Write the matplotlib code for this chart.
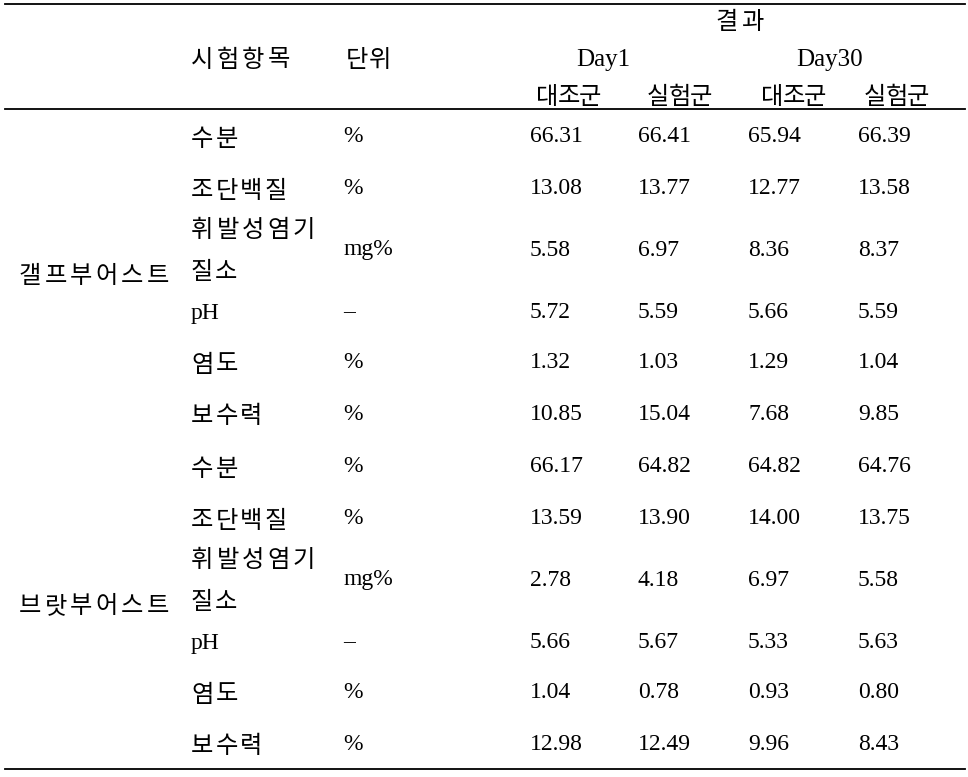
import matplotlib.pyplot as plt

plt.rcParams['font.family'] = ['Liberation Serif', 'Noto Sans CJK KR']

# 표 데이터
groups = ['갤프부어스트', '브랏부어스트']
items = ['수분', '조단백질', '휘발성염기\n질소', 'pH', '염도', '보수력']
units = ['%', '%', 'mg%', '–', '%', '%']
col_heads = ['대조군', '실험군', '대조군', '실험군']
days = ['Day1', 'Day30']

values = [
    # 갤프부어스트: Day1 대조군, Day1 실험군, Day30 대조군, Day30 실험군
    [['66.31', '66.41', '65.94', '66.39'],
     ['13.08', '13.77', '12.77', '13.58'],
     ['5.58', '6.97', '8.36', '8.37'],
     ['5.72', '5.59', '5.66', '5.59'],
     ['1.32', '1.03', '1.29', '1.04'],
     ['10.85', '15.04', '7.68', '9.85']],
    # 브랏부어스트
    [['66.17', '64.82', '64.82', '64.76'],
     ['13.59', '13.90', '14.00', '13.75'],
     ['2.78', '4.18', '6.97', '5.58'],
     ['5.66', '5.67', '5.33', '5.63'],
     ['1.04', '0.78', '0.93', '0.80'],
     ['12.98', '12.49', '9.96', '8.43']],
]

fig = plt.figure(figsize=(9.68, 7.77), dpi=100)
ax = fig.add_axes([0, 0, 1, 1])
ax.set_xlim(0, 968)
ax.set_ylim(777, 0)
ax.axis('off')

fs_ko = 17.5   # 한글
fs_num = 17    # 숫자/영문
dy = 3         # 한글 세로 보정


def ko(x, y, s, pitch=25.5):
    # 한글은 글자 사이 간격을 넓게 (명조체 표 느낌)
    if s.isascii():
        ax.text(x, y, s, fontsize=fs_num, va='center')
        return
    for i, ch in enumerate(s):
        ax.text(x + i * pitch, y + dy, ch, fontsize=fs_ko, va='center')


x_group, x_item, x_unit = 19, 191, 343
x_vals = [530, 638, 748, 858]
x_heads = [536, 647, 761, 864]

# 가로선
for y in [4, 109, 769]:
    ax.plot([5, 965], [y, y], color='black', lw=1.3)

# 머리글
ko(715, 20, '결과', pitch=26)
ko(x_item, 58, '시험항목')
ko(346, 58, '단위', pitch=23)
ax.text(603, 60, days[0], fontsize=fs_num + 1, ha='center', va='center')
ax.text(830, 60, days[1], fontsize=fs_num + 1, ha='center', va='center')
for x, h in zip(x_heads, col_heads):
    ko(x, 95, h, pitch=21.5)

row_y = [137, 189, 250, 313, 363, 414]
block = 330
for g, grp in enumerate(groups):
    off = g * block
    ko(x_group, 274 + off, grp)
    for r, item in enumerate(items):
        y = row_y[r] + off
        if '\n' in item:
            a, b = item.split('\n')
            ko(x_item, y - 22, a)
            ko(x_item, y + 20, b, pitch=24)
        else:
            ko(x_item, y, item, pitch=24.5)
        ax.text(x_unit, y, units[r], fontsize=fs_num, va='center')
        for c in range(4):
            ax.text(x_vals[c], y, values[g][r][c], fontsize=fs_num, va='center')

fig.savefig('out.png', dpi=100)
